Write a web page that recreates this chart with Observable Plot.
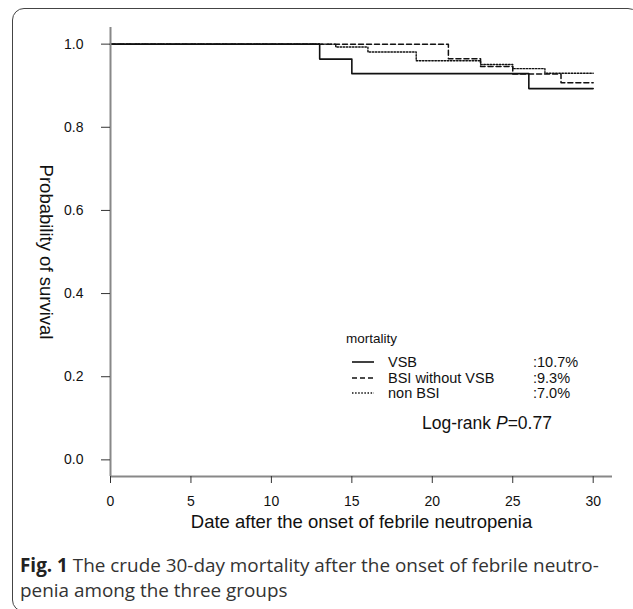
<!DOCTYPE html>
<html><head><meta charset="utf-8">
<script src="https://cdn.jsdelivr.net/npm/d3@7"></script>
<script src="https://cdn.jsdelivr.net/npm/@observablehq/plot@0.6"></script>
<style>
body{margin:0;background:#fff;}
#wrap{position:relative;width:633px;height:609px;overflow:hidden;background:#fff;}
#frame{position:absolute;left:12px;top:8px;width:628px;height:604px;border:1.5px solid #444;border-radius:12px;box-sizing:border-box;}
#chart{position:absolute;left:0;top:0;}
#caption{position:absolute;left:20px;top:553px;width:610px;font-family:"Open Sans",sans-serif;font-size:18.9px;line-height:25px;color:#333;white-space:nowrap;}
</style></head><body>
<div id="wrap"><div id="frame"></div><div id="chart"></div>
<div id="caption"><b style="color:#222">Fig. 1</b> The crude 30-day mortality after the onset of febrile neutro-<br>penia among the three groups</div></div>
<script>
const xTicks = [0, 5, 10, 15, 20, 25, 30];
const yTicks = [0, 0.2, 0.4, 0.6, 0.8, 1.0];
const groups = ["VSB", "BSI without VSB", "non BSI"];
const mortality = [":10.7%", ":9.3%", ":7.0%"];
const vsbDays = [0, 13, 15, 26, 30];
const vsbSurv = [1, 0.964, 0.929, 0.893, 0.893];
const bsiDays = [0, 21, 23, 25, 28, 30];
const bsiSurv = [1, 0.965, 0.946, 0.928, 0.907, 0.907];
const nonDays = [0, 14, 16, 19, 23, 25, 27, 30];
const nonSurv = [1, 0.993, 0.981, 0.960, 0.951, 0.941, 0.930, 0.930];
const xTitle = "Date after the onset of febrile neutropenia";
const yTitle = "Probability of survival";
const logRank = ["Log-rank ", "P", "=0.77"];
const legendTitle = "mortality";

const xDomain = [0, 31.2];
const yDomain = [-0.04, 1.04];
const dashes = [null, "5,3", "1.5,1.6"];
const widths = [1.6, 1.5, 1.4];

const series = [[vsbDays, vsbSurv], [bsiDays, bsiSurv], [nonDays, nonSurv]].map(([d, s], i) =>
  d.map((day, j) => ({group: groups[i], day, surv: s[j]})));

const font = "'Liberation Sans', Arial, sans-serif";

const chart = Plot.plot({
  width: 633, height: 545,
  marginLeft: 110, marginRight: 21, marginTop: 27, marginBottom: 69,
  x: {domain: xDomain},
  y: {domain: yDomain},
  style: {fontFamily: font, fontSize: "14px", color: "#111", background: "transparent"},
  marks: [
    ...series.map((rows, i) => Plot.line(rows, {x: "day", y: "surv", curve: "step-after",
      stroke: "#111", strokeWidth: widths[i], strokeDasharray: dashes[i]})),
    Plot.ruleX([xDomain[0]], {y1: yDomain[0], y2: yDomain[1], stroke: "#888", strokeWidth: 2}),
    Plot.ruleY([yDomain[0]], {x1: xDomain[0], x2: xDomain[1], stroke: "#888", strokeWidth: 2}),
    Plot.axisY(yTicks, {tickSize: 9, tickPadding: 18, tickFormat: d3.format(".1f"), label: null, stroke: "#333", fontSize: 14}),
    Plot.axisX(xTicks, {tickSize: 7, tickPadding: 13, label: null, stroke: "#333", fontSize: 14}),
    Plot.text([xTitle], {frameAnchor: "bottom", dy: 51, fontSize: 18.5, fill: "#111"}),
    Plot.text([yTitle], {frameAnchor: "left", dx: -65, rotate: 90, textAnchor: "middle", fontSize: 18.5, fill: "#111"})
  ]
});
document.getElementById("chart").appendChild(chart);

// legend inside the plot area
const svg = d3.select(chart);
const g = svg.append("g").attr("font-family", font).attr("fill", "#111").attr("text-anchor", "start");
g.append("text").attr("x", 346).attr("y", 338).attr("dy", "0.35em").attr("font-size", 13.5).text(legendTitle);
const rowY = [362, 378, 393];
groups.forEach((name, i) => {
  g.append("line").attr("x1", 352).attr("x2", 374).attr("y1", rowY[i]).attr("y2", rowY[i])
    .attr("stroke", "#111").attr("stroke-width", widths[i]).attr("stroke-dasharray", dashes[i]);
  g.append("text").attr("x", 388).attr("y", rowY[i]).attr("dy", "0.35em").attr("font-size", 14.5).text(name);
  g.append("text").attr("x", 533).attr("y", rowY[i]).attr("dy", "0.35em").attr("font-size", 14.5).text(mortality[i]);
});
const lr = g.append("text").attr("x", 422).attr("y", 423).attr("dy", "0.35em").attr("font-size", 17.5);
lr.append("tspan").text(logRank[0]);
lr.append("tspan").attr("font-style", "italic").text(logRank[1]);
lr.append("tspan").text(logRank[2]);
</script>
</body></html>
